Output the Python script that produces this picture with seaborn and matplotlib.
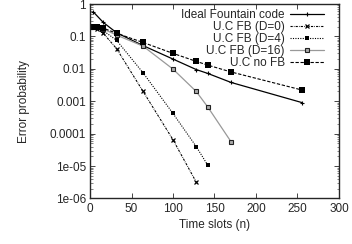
import numpy as np
import pandas as pd
import matplotlib
matplotlib.use("Agg")
import matplotlib.pyplot as plt
import seaborn as sns
from matplotlib.ticker import LogLocator, FixedLocator

# ---- data ----
n_ideal = [4, 16, 32, 64, 100, 128, 142, 170, 256]
p_ideal = [0.57, 0.27, 0.13, 0.052, 0.02, 0.0095, 0.0072, 0.0038, 0.0009]

n_d0 = [1, 4, 8, 16, 32, 64, 100, 128]
p_d0 = [0.2, 0.2, 0.17, 0.125, 0.042, 0.002, 6.5e-5, 3.2e-6]

n_d4 = [1, 4, 8, 16, 32, 64, 100, 128, 142]
p_d4 = [0.2, 0.2, 0.18, 0.15, 0.076, 0.0075, 4.2e-4, 4e-5, 1.05e-5]

n_d16 = [1, 4, 8, 16, 32, 64, 100, 128, 142, 170]
p_d16 = [0.2, 0.2, 0.19, 0.17, 0.11, 0.05, 0.0098, 0.002, 6.6e-4, 5.6e-5]

n_nofb = [1, 4, 8, 16, 32, 64, 100, 128, 142, 170, 256]
p_nofb = [0.2, 0.2, 0.2, 0.18, 0.125, 0.065, 0.03, 0.017, 0.013, 0.008, 0.0022]

labels = ["Ideal Fountain code", "U.C FB (D=0)", "U.C FB (D=4)", "U.C FB (D=16)", "U.C no FB"]
x_ticks = [0, 50, 100, 150, 200, 250, 300]
y_ticks = [1e-6, 1e-5, 1e-4, 1e-3, 1e-2, 1e-1, 1]
y_ticklabels = ["1e-06", "1e-05", "0.0001", "0.001", "0.01", "0.1", "1"]

FS = 8.5
sns.set_style("ticks")
plt.rcParams["font.family"] = ["Liberation Sans", "DejaVu Sans"]
plt.rcParams["font.size"] = FS

fig = plt.figure(figsize=(3.52, 2.44), dpi=100)
ax = fig.add_axes([0.2557, 0.1865, 0.963 - 0.2557, 0.9836 - 0.1865])

styles = [
    dict(color="black", linestyle="-", linewidth=0.9, marker="+", markersize=3.5,
         markeredgecolor="black", markeredgewidth=0.8),
    dict(color="black", linestyle=(0, (2, 1, 0.6, 1)), linewidth=0.8, marker="x",
         markersize=2.8, markeredgecolor="black", markeredgewidth=0.9),
    dict(color="black", linestyle=(0, (1, 1.2)), linewidth=0.8, marker="s",
         markersize=2.3, markeredgecolor="black", markeredgewidth=0),
    dict(color="#999999", linestyle="-", linewidth=0.9, marker="s", markersize=3.3,
         markeredgecolor="#222222", markerfacecolor="#aaaaaa", markeredgewidth=0.8),
    dict(color="black", linestyle=(0, (3, 1.5)), linewidth=0.8, marker="s",
         markersize=3.7, markeredgecolor="black", markeredgewidth=0),
]
series = [(n_ideal, p_ideal), (n_d0, p_d0), (n_d4, p_d4), (n_d16, p_d16), (n_nofb, p_nofb)]
for (xs, ys), lab, st in zip(series, labels, styles):
    df = pd.DataFrame({"n": xs, "p": ys})
    sns.lineplot(data=df, x="n", y="p", ax=ax, label=lab, **st)

ax.set_yscale("log")
ax.set_xlim(0, 300)
ax.set_ylim(1e-6, 1)
ax.set_xticks(x_ticks)
ax.set_xticklabels([str(t) for t in x_ticks])
ax.yaxis.set_major_locator(FixedLocator(y_ticks))
ax.set_yticklabels(y_ticklabels)
ax.yaxis.set_minor_locator(LogLocator(base=10, subs=np.arange(2, 10)))
ax.yaxis.set_minor_formatter(plt.NullFormatter())
ax.tick_params(which="major", direction="in", length=3.5, width=0.6,
               top=True, right=True, labelsize=FS, pad=3)
ax.tick_params(which="minor", direction="in", length=1.8, width=0.4, right=True)
for s in ax.spines.values():
    s.set_linewidth(1.0)
    s.set_visible(True)
ax.set_xlabel("Time slots (n)", fontsize=FS, labelpad=3)
ax.set_ylabel("Error probability", fontsize=FS, labelpad=14)

leg = ax.legend(loc="upper right", bbox_to_anchor=(0.956, 0.992), frameon=False,
                markerfirst=False, fontsize=FS, handlelength=2.9, labelspacing=0.0,
                borderaxespad=0.0, handletextpad=0.45, borderpad=0.3)

fig.savefig("out.png", dpi=100)
